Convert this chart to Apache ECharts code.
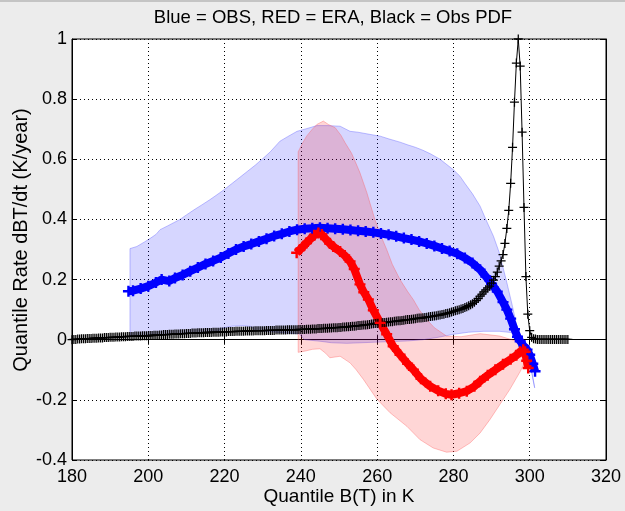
<!DOCTYPE html>
<html>
<head>
<meta charset="utf-8">
<script src="https://cdn.jsdelivr.net/npm/echarts@6/dist/echarts.min.js"></script>
<style>
  html, body { margin: 0; padding: 0; background: #ececec; }
  #chart { width: 625px; height: 511px; }
</style>
</head>
<body>
<div id="chart"></div>
<script>
// ---- axis ticks ----
const xTicks = [180, 200, 220, 240, 260, 280, 300, 320];
const yTicks = [-0.4, -0.2, 0, 0.2, 0.4, 0.6, 0.8, 1];

// ---- OBS quantile rate (blue), [K, K/year] ----
const obsRate = [
  [194.8,0.161],[196,0.163],[198,0.17],[200,0.178],[202,0.19],[203.5,0.2],[205.5,0.195],[207,0.205],
  [209,0.215],[211,0.228],[213,0.24],[215,0.252],[217,0.262],[219,0.273],[221,0.287],[223,0.3],
  [225,0.31],[227,0.318],[229,0.327],[231,0.336],[233,0.345],[235,0.352],[237,0.36],[239,0.366],
  [241,0.369],[243,0.371],[245,0.372],[247,0.371],[249,0.369],[251,0.367],[253,0.365],[255,0.362],
  [257,0.36],[259,0.357],[261,0.353],[263,0.349],[265,0.344],[267,0.338],[269,0.333],[271,0.327],
  [273,0.32],[275,0.312],[277,0.303],[279,0.295],[281,0.286],[283,0.272],[285,0.255],[287,0.233],
  [288.5,0.21],[290,0.186],[291.5,0.16],[293,0.125],[294,0.1],[295,0.07],[296,0.035],[296.8,0.01],
  [297.5,-0.005],[298.5,-0.022],[299.3,-0.033],[300,-0.05],[300.8,-0.08],[301.4,-0.105]
];

// ---- OBS spread envelope (blue band) ----
const obsUpper = [
  [195.2,0.303],[197,0.31],[199,0.325],[200.5,0.337],[202,0.35],[203.1,0.366],[205,0.378],[206.5,0.388],
  [208.3,0.4],[210,0.415],[212,0.432],[214,0.448],[216.2,0.466],[218,0.482],[220,0.5],[222,0.52],
  [224,0.54],[226,0.56],[228,0.58],[230,0.602],[232,0.625],[234.5,0.66],[236.5,0.675],[239,0.693],
  [241,0.7],[244.2,0.712],[247,0.712],[250.3,0.71],[252.9,0.693],[255,0.69],[258,0.683],[260.8,0.677],
  [263,0.668],[266,0.657],[268,0.648],[270,0.64],[272,0.63],[274,0.618],[276.5,0.6],[278,0.585],
  [280,0.565],[281.7,0.544],[283,0.52],[285,0.485],[287,0.444],[288.5,0.4],[290.5,0.344],[292,0.29],
  [294,0.19],[295.5,0.11],[296.6,0.045],[298,0.0],[299.2,-0.043],[300.2,-0.09],[300.9,-0.13],[301.3,-0.16]
];
const obsLower = [
  [195.2,0.01],[200,0.013],[205,0.018],[210,0.022],[215,0.025],[218,0.028],[220,0.04],[222,0.045],
  [225,0.046],[227,0.044],[228,0.03],[232,0.027],[236,0.022],[239.5,0.02],[241,0.0],[245,-0.005],
  [248,-0.01],[252,-0.012],[256,-0.01],[260,-0.008],[264,-0.006],[268,-0.004],[272,0.0],[276,0.008],
  [280,0.018],[284,0.025],[288,0.028],[292,0.028],[295,0.024],[297,0.012],[298.5,-0.01],[299.5,-0.035],
  [300.3,-0.08],[300.8,-0.13],[301.3,-0.16]
];

// ---- ERA quantile rate (red) ----
const eraRate = [
  [238.9,0.289],[239.8,0.3],[240.7,0.312],[241.5,0.322],[242.5,0.335],[243.5,0.347],[244.6,0.355],
  [245.5,0.35],[246.5,0.335],[247.6,0.32],[248.5,0.31],[250.3,0.293],[251.5,0.28],[252.9,0.26],
  [254,0.235],[255.5,0.184],[256.5,0.158],[257.7,0.134],[259,0.098],[260.8,0.056],[262.5,0.018],
  [264.2,-0.022],[266,-0.05],[268,-0.08],[269.5,-0.1],[271.5,-0.13],[273.9,-0.155],[276,-0.17],
  [278,-0.18],[279.5,-0.183],[281.5,-0.178],[283.5,-0.171],[285.5,-0.155],[287,-0.138],[289,-0.118],
  [291,-0.1],[293,-0.082],[295,-0.065],[296.5,-0.052],[297.5,-0.04],[298.3,-0.033],[298.8,-0.04],
  [299.2,-0.07],[299.6,-0.094]
];

// ---- ERA spread envelope (red band) ----
const eraUpper = [
  [239.3,0.625],[240.5,0.655],[241.5,0.677],[243,0.7],[244.2,0.716],[245.9,0.727],[247.2,0.716],
  [249,0.705],[250.5,0.68],[251.6,0.655],[253.3,0.62],[254.5,0.585],[255.5,0.555],[257.3,0.489],
  [259.4,0.4],[261,0.345],[262.5,0.3],[264,0.25],[266,0.2],[268,0.16],[269.5,0.133],[271,0.1],
  [273,0.067],[275,0.04],[278.2,0.012],[282,0.01],[287,0.02],[292.2,0.012],[296.6,-0.005],
  [298.8,-0.022],[300.1,-0.04]
];
const eraLower = [
  [239.3,-0.042],[241,-0.038],[243,-0.032],[245,-0.03],[246.5,-0.045],[247.6,-0.06],[250.3,-0.055],
  [252.9,-0.077],[254.5,-0.1],[256.4,-0.132],[259.9,-0.197],[263.4,-0.243],[267.8,-0.288],
  [271.2,-0.332],[274.7,-0.36],[278.2,-0.374],[280.9,-0.371],[284.4,-0.343],[287,-0.31],
  [289.6,-0.265],[292.2,-0.215],[294.8,-0.165],[297.5,-0.106],[299.3,-0.06],[300.1,-0.04]
];

// ---- OBS PDF (black), sampled every 0.5 K from 180 K ----
const pdfStartK = 180;
const pdfStepK = 0.5;
const pdfValues = [
  0.000,0.001,0.001,0.002,0.002,0.003,0.003,0.003,0.004,0.004,
  0.004,0.005,0.005,0.005,0.006,0.006,0.006,0.007,0.007,0.007,
  0.008,0.008,0.008,0.009,0.009,0.009,0.010,0.010,0.010,0.011,
  0.011,0.011,0.011,0.012,0.012,0.012,0.012,0.013,0.013,0.013,
  0.013,0.014,0.014,0.015,0.015,0.015,0.016,0.016,0.017,0.017,
  0.017,0.018,0.018,0.018,0.019,0.019,0.019,0.020,0.020,0.020,
  0.021,0.021,0.021,0.022,0.022,0.022,0.023,0.023,0.023,0.023,
  0.024,0.024,0.024,0.024,0.025,0.025,0.025,0.025,0.026,0.026,
  0.026,0.026,0.027,0.027,0.027,0.027,0.028,0.028,0.028,0.028,
  0.028,0.029,0.029,0.029,0.029,0.029,0.030,0.030,0.030,0.030,
  0.030,0.030,0.031,0.031,0.031,0.031,0.031,0.032,0.032,0.032,
  0.032,0.032,0.032,0.033,0.033,0.033,0.033,0.033,0.033,0.034,
  0.034,0.034,0.034,0.035,0.035,0.035,0.036,0.036,0.036,0.037,
  0.037,0.037,0.038,0.038,0.038,0.039,0.039,0.040,0.040,0.040,
  0.041,0.041,0.042,0.042,0.043,0.043,0.044,0.045,0.045,0.046,
  0.047,0.047,0.048,0.049,0.049,0.050,0.051,0.052,0.053,0.054,
  0.055,0.055,0.056,0.057,0.057,0.058,0.059,0.060,0.060,0.061,
  0.062,0.063,0.063,0.064,0.065,0.066,0.067,0.067,0.068,0.069,
  0.070,0.071,0.072,0.072,0.073,0.074,0.075,0.076,0.077,0.078,
  0.079,0.080,0.081,0.082,0.084,0.085,0.087,0.088,0.090,0.092,
  0.094,0.096,0.098,0.100,0.102,0.104,0.107,0.110,0.113,0.116,
  0.120,0.125,0.130,0.137,0.145,0.152,0.159,0.166,0.172,0.178,
  0.188,0.198,0.210,0.225,0.245,0.262,0.283,0.320,0.370,0.430,
  0.520,0.640,0.790,0.920,1.000,0.910,0.690,0.440,0.210,0.085,
  0.030,0.008,0.003,0.002,0.001,0.001,0.001,0.001,0.001,0.001,
  0.001,0.001,0.001,0.001,0.001,0.001,0.001,0.001,0.001,0.001,
  0.001
];
const pdfPoints = pdfValues.map((v, i) => [pdfStartK + i * pdfStepK, v]);

const FONT = "'Liberation Sans', Helvetica, Arial, sans-serif";
// "+" marker drawn as two filled bars
const PLUS_THIN = 'path://M0,8.6L20,8.6L20,11.4L0,11.4Z M8.6,0L11.4,0L11.4,20L8.6,20Z';
const PLUS_BOLD = 'path://M0,7.8L20,7.8L20,12.2L0,12.2Z M7.8,0L12.2,0L12.2,20L7.8,20Z';

function band(upper, lower, fill, stroke) {
  return {
    type: 'custom',
    silent: true,
    clip: true,
    data: [upper[0]],
    encode: { x: 0, y: 1 },
    renderItem: function (params, api) {
      const pts = upper.map(p => api.coord(p))
        .concat(lower.slice().reverse().map(p => api.coord(p)));
      return {
        type: 'polygon',
        shape: { points: pts },
        style: { fill: fill, stroke: stroke, lineWidth: 1 }
      };
    }
  };
}

function rateLine(data, color) {
  return {
    type: 'line',
    data: data,
    symbol: PLUS_BOLD,
    symbolSize: 11,
    showSymbol: true,
    lineStyle: { color: color, width: 8 },
    itemStyle: { color: color, borderWidth: 0 },
    silent: true,
    clip: true
  };
}

const chart = echarts.init(document.getElementById('chart'), null, { renderer: 'canvas' });

const axisCommon = {
  axisLine: { show: true, lineStyle: { color: '#000', width: 1 } },
  axisTick: { show: true, inside: true, length: 5, lineStyle: { color: '#000' } }
};

chart.setOption({
  animation: false,
  backgroundColor: '#ececec',
  grid: {
    left: 72, right: 19, top: 39, bottom: 51,
    show: true, backgroundColor: '#ffffff', borderColor: '#000', borderWidth: 1
  },
  xAxis: [
    Object.assign({
      type: 'value', min: xTicks[0], max: xTicks[xTicks.length - 1], interval: 20,
      position: 'bottom',
      axisLabel: { color: '#000', fontSize: 18, fontFamily: FONT, margin: 8 },
      splitLine: { show: true, lineStyle: { color: '#000', type: [1, 3], width: 1 } }
    }, axisCommon),
    Object.assign({
      type: 'value', min: xTicks[0], max: xTicks[xTicks.length - 1], interval: 20,
      position: 'top',
      axisLabel: { show: false },
      splitLine: { show: false }
    }, axisCommon)
  ],
  yAxis: [
    Object.assign({
      type: 'value', min: yTicks[0], max: yTicks[yTicks.length - 1], interval: 0.2,
      position: 'left',
      axisLabel: { color: '#000', fontSize: 18, fontFamily: FONT, margin: 5 },
      splitLine: { show: true, lineStyle: { color: '#000', type: [1, 3], width: 1 } }
    }, axisCommon),
    Object.assign({
      type: 'value', min: yTicks[0], max: yTicks[yTicks.length - 1], interval: 0.2,
      position: 'right',
      axisLabel: { show: false },
      splitLine: { show: false }
    }, axisCommon)
  ],
  graphic: [
    { type: 'rect', x: 0, y: 0, shape: { width: 625, height: 2 }, style: { fill: '#c4c4c4' } },
    { type: 'text', x: 333, y: 18, style: {
        text: 'Blue = OBS, RED = ERA, Black = Obs PDF', fill: '#000',
        font: '18.5px ' + FONT, textAlign: 'center', textVerticalAlign: 'middle' } },
    { type: 'text', x: 339, y: 497, style: {
        text: 'Quantile B(T) in K', fill: '#000',
        font: '19px ' + FONT, textAlign: 'center', textVerticalAlign: 'middle' } },
    { type: 'text', x: 21, y: 240, rotation: Math.PI / 2, style: {
        text: 'Quantile Rate dBT/dt (K/year)', fill: '#000',
        font: '20px ' + FONT, textAlign: 'center', textVerticalAlign: 'middle' } }
  ],
  series: [
    band(obsUpper, obsLower, 'rgba(0,0,255,0.16)', 'rgba(80,80,255,0.35)'),
    band(eraUpper, eraLower, 'rgba(255,0,0,0.16)', 'rgba(255,80,80,0.35)'),
    rateLine(obsRate, '#0000ff'),
    {
      type: 'line',
      data: pdfPoints,
      symbol: PLUS_THIN,
      symbolSize: 9,
      showSymbol: true,
      lineStyle: { color: '#000', width: 1 },
      itemStyle: { color: '#000', borderWidth: 0 },
      silent: true,
      clip: true
    },
    rateLine(eraRate, '#ff0000')
  ]
});
</script>
</body>
</html>
